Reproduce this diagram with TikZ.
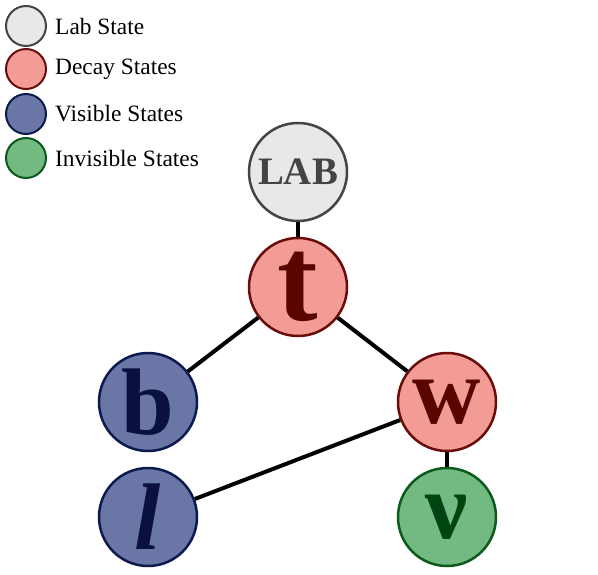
\documentclass[tikz,border=0pt]{standalone}
\usepackage{fontspec}
\setmainfont{Liberation Serif}
\usepackage{tikz}

\definecolor{labfill}{HTML}{E8E8E8}
\definecolor{labdraw}{HTML}{444444}
\definecolor{decfill}{HTML}{F39C95}
\definecolor{decdraw}{HTML}{6A0C0C}
\definecolor{dectext}{HTML}{5A0600}
\definecolor{visfill}{HTML}{6A76A6}
\definecolor{visdraw}{HTML}{0C1A4E}
\definecolor{vistext}{HTML}{0A1040}
\definecolor{invfill}{HTML}{72B982}
\definecolor{invdraw}{HTML}{0C5A1C}
\definecolor{invtext}{HTML}{004412}

\tikzset{
	state/.style = {circle, line width = 2.5bp, minimum size = 98bp, inner sep = 0pt},
	labstate/.style = {state, fill = labfill, draw = labdraw, text = labdraw, font = \fontsize{39}{39}\selectfont\bfseries},
	decstate/.style = {state, fill = decfill, draw = decdraw, text = dectext, font = \fontsize{95}{95}\selectfont\bfseries},
	visstate/.style = {state, fill = visfill, draw = visdraw, text = vistext, font = \fontsize{95}{95}\selectfont\bfseries},
	invstate/.style = {state, fill = invfill, draw = invdraw, text = invtext, font = \fontsize{95}{95}\selectfont\bfseries},
	key/.style = {circle, line width = 2bp, minimum size = 40bp, inner sep = 0pt},
	keytext/.style = {anchor = west, font = \fontsize{23.5}{23.5}\selectfont, inner sep = 0pt},
	link/.style = {line width = 4bp}
}

\begin{document}
\begin{tikzpicture}[x = 1bp, y = -1bp]
		\useasboundingbox (0,0) rectangle (598,575);
		% legend
		\node[key, fill = labfill, draw = labdraw] (klab) at (26,26) {};
		\node[key, fill = decfill, draw = decdraw] (kdec) at (26,69) {};
		\node[key, fill = visfill, draw = visdraw] (kvis) at (26,114) {};
		\node[key, fill = invfill, draw = invdraw] (kinv) at (26,158) {};
		\node[keytext] (tlab) at (55,26) {Lab State};
		\node[keytext] (tdec) at (55,69) {Decay States};
		\node[keytext] (tvis) at (55,114) {Visible States};
		\node[keytext] (tinv) at (55,158) {Invisible States};
		% states
		\node[labstate] (lab) at (298,172) {LAB};
		\node[decstate, font = \fontsize{122}{122}\selectfont\bfseries] (top) at (298,287) {t};
		\node[visstate] (bot) at (148,402) {b};
		\node[decstate] (wbos) at (447,402) {w};
		\node[visstate] (lep) at (148,517) {\itshape l};
		\node[invstate] (nu) at (447,517) {ν};
		% links
		\draw[link] (lab) -- (top);
		\draw[link] (top) -- (bot);
		\draw[link] (top) -- (wbos);
		\draw[link] (wbos) -- (lep);
		\draw[link] (wbos) -- (nu);
	\end{tikzpicture}
\end{document}
